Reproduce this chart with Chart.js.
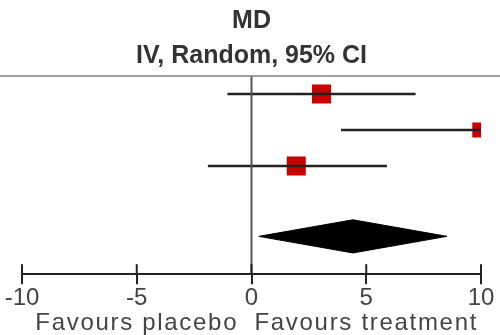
<!DOCTYPE html>
<html><head><meta charset="utf-8">
<script src="https://cdn.jsdelivr.net/npm/chart.js@4/dist/chart.umd.min.js"></script>
<style>html,body{margin:0;padding:0;background:#fff}#wrap{width:500px;height:335px;position:relative}</style>
</head><body><div id="wrap"><canvas id="c"></canvas></div>
<script>
// ---- data ----
const studyRows = [0.5, 1.5, 2.5];
const meanDiff = [3.05, 9.95, 1.95];
const ciLower = [-1.05, 3.9, -1.9];
const ciUpper = [7.15, 12.0, 5.9];
const studyWeight = [38, 24, 38];
const pooledRow = 4.45;
const pooledMD = 4.42;
const pooledLower = 0.32;
const pooledUpper = 8.52;
const xTicks = [-10, -5, 0, 5, 10];
const favourLabels = ['Favours placebo', 'Favours treatment'];
const favourAt = [-5, 5];
const titleLines = ['MD', 'IV, Random, 95% CI'];

const FONT = '"Liberation Sans", Arial, sans-serif';
Chart.defaults.font.family = FONT;

const datasets = [];
// zero line
datasets.push({data:[{x:0,y:0},{x:0,y:5.5}], showLine:true, borderColor:'#555', borderWidth:2, pointRadius:0, clip:0});
// CI lines
studyRows.forEach((r,i)=>{
  datasets.push({data:[{x:ciLower[i],y:r},{x:ciUpper[i],y:r}], showLine:true, borderColor:'#222', borderWidth:2.5, pointRadius:0, clip:0});
});
// squares
datasets.push({
  data: studyRows.map((r,i)=>({x:meanDiff[i], y:r})),
  pointStyle:'rect',
  pointRadius: studyWeight.map(w=>2.18*Math.sqrt(w)),
  backgroundColor:'#c80000', borderWidth:0, clip:0
});
// pooled diamond
const dh = 0.46;
datasets.push({
  data:[{x:pooledLower,y:pooledRow},{x:pooledMD,y:pooledRow-dh},{x:pooledUpper,y:pooledRow},{x:pooledMD,y:pooledRow+dh},{x:pooledLower,y:pooledRow}],
  showLine:true, fill:'shape', backgroundColor:'#000', borderColor:'#000', borderWidth:1, pointRadius:0, tension:0, clip:0
});

const decor = {
  id:'decor',
  afterDraw(chart){
    const {ctx, chartArea:a, scales:{x}} = chart;
    ctx.save();
    ctx.strokeStyle='#808080'; ctx.lineWidth=1.5;
    ctx.beginPath(); ctx.moveTo(0,a.top); ctx.lineTo(chart.width,a.top); ctx.stroke();
    ctx.strokeStyle='#222'; ctx.lineWidth=2;
    xTicks.forEach(v=>{const px=x.getPixelForValue(v); ctx.beginPath(); ctx.moveTo(px,a.bottom); ctx.lineTo(px,a.bottom-10); ctx.stroke();});
    ctx.fillStyle='#444'; ctx.font='24px '+FONT; ctx.textAlign='center'; ctx.textBaseline='middle';
    try{ctx.letterSpacing='1.7px';}catch(e){}
    favourLabels.forEach((t,i)=>ctx.fillText(t, x.getPixelForValue(favourAt[i]), chart.height-12));
    ctx.restore();
  }
};

new Chart(document.getElementById('c'), {
  type:'scatter',
  data:{datasets},
  options:{
    responsive:true, maintainAspectRatio:false, animation:false,
    layout:{padding:{left:22,right:19,top:0,bottom:22}},
    plugins:{
      legend:{display:false}, tooltip:{enabled:false},
      title:{display:true, text:titleLines, color:'#333', font:{size:25, weight:'bold', lineHeight:1.4}, padding:{top:4,bottom:2}}
    },
    scales:{
      x:{type:'linear', min:-10, max:10,
        afterBuildTicks:(s)=>{s.ticks = xTicks.map(v=>({value:v}));},
        ticks:{color:'#444', font:{size:24}, padding:0, maxRotation:0},
        border:{display:true,color:'#222',width:2},
        grid:{display:true, drawOnChartArea:false, drawTicks:true, tickLength:10, color:'#222', lineWidth:2}
      },
      y:{type:'linear', display:false, min:0, max:5.5, reverse:true}
    }
  },
  plugins:[decor]
});
</script></body></html>
